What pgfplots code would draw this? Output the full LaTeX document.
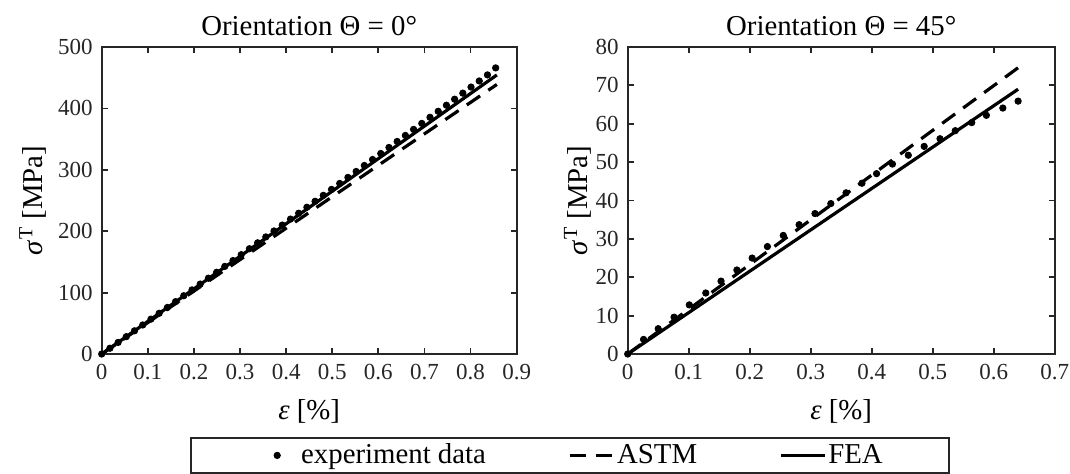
\documentclass[border=0pt]{standalone}
\usepackage{fontspec}
\setmainfont{Liberation Serif}
\usepackage{pgfplots}
\pgfplotsset{compat=1.18}
\definecolor{axgray}{RGB}{38,38,38}
\newcommand{\lblfont}{\fontsize{14.4}{17}\selectfont}

\pgfplotsset{
  panel/.style={
    scale only axis,
    height=153.5pt,
    axis line style={axgray, line width=0.9pt},
    every tick/.style={axgray, line width=0.9pt},
    major tick length=3pt,
    tick align=inside,
    xmin=0, ymin=0,
    /pgf/number format/assume math mode=true,
    ticklabel style={font=\fontsize{11.5}{13}\selectfont, text=axgray},
    xticklabel style={yshift=-1.5pt},
    yticklabel style={xshift=-1pt},
    xlabel={\lblfont\textit{ε} [\%]},
    ylabel={\lblfont\textit{σ}\textsuperscript{T} [MPa]},
    xlabel style={at={(axis description cs:0.5,-0.187)}, anchor=center},
    legend image code/.code={\draw[mark repeat=2,mark phase=2,#1] plot coordinates {(0pt,0pt) (11pt,0pt) (22pt,0pt)};},
  },
  exp/.style={black, only marks, mark=*, mark size=1.6pt, line width=0.4pt,
    legend image code/.code={\path[draw=none,fill=none] (0pt,0pt) -- (22pt,0pt); \draw[#1] plot coordinates {(11pt,0pt)};}},
  astm/.style={black, line width=1.6pt, dash pattern=on 8pt off 5pt},
  fea/.style={black, line width=1.6pt},
}

\begin{document}
\begin{tikzpicture}
\path[use as bounding box] (-50.85pt,-59.5pt) rectangle (484.15pt,177pt);

% Orientation 0 deg
\begin{axis}[
    panel,
    at={(0pt,0pt)}, anchor=south west,
    width=207.5pt,
    xmax=0.9, ymax=500,
    xtick={0,0.1,0.2,0.3,0.4,0.5,0.6,0.7,0.8,0.9},
    ytick={0,100,200,300,400,500},
    title={\lblfont Orientation Θ = 0°},
    title style={yshift=-4pt},
    ylabel style={at={(axis description cs:-0.1655,0.5)}, anchor=center},
    legend columns=3,
    legend cell align=left,
    legend style={
        at={(axis description cs:1.1284,-0.2704)}, anchor=north,
        draw=axgray, line width=0.9pt,
        inner xsep=32pt, inner ysep=2pt,
        nodes={inner sep=1pt, font=\lblfont},
        /tikz/every even column/.append style={column sep=40pt},
    },
]
\addplot[exp] coordinates {
 (0,0) (0.0178,9.4) (0.0356,18.9) (0.0534,28.3) (0.0712,37.8) (0.0890,47.3)
 (0.1068,56.8) (0.1246,66.3) (0.1424,75.8) (0.1602,85.3) (0.1780,94.9)
 (0.1958,104.4) (0.2136,113.9) (0.2314,123.5) (0.2492,133.1) (0.2670,142.7)
 (0.2848,152.2) (0.3026,161.8) (0.3204,171.5) (0.3382,181.1) (0.3560,190.7)
 (0.3738,200.4) (0.3916,210.0) (0.4094,219.7) (0.4272,229.3) (0.4450,239.0)
 (0.4628,248.7) (0.4806,258.4) (0.4984,268.1) (0.5162,277.8) (0.5340,287.6)
 (0.5518,297.3) (0.5696,307.1) (0.5874,316.8) (0.6052,326.6) (0.6230,336.4)
 (0.6408,346.2) (0.6586,356.0) (0.6764,365.8) (0.6942,375.6) (0.7120,385.5)
 (0.7298,395.3) (0.7476,405.2) (0.7654,415.0) (0.7832,424.9) (0.8010,434.8)
 (0.8188,444.7) (0.8366,454.6) (0.8544,466.0)
};
\addlegendentry{experiment data}
\addplot[astm] coordinates {(0,0) (0.857,439)};
\addlegendentry{ASTM}
\addplot[fea] coordinates {(0,0) (0.857,454.5)};
\addlegendentry{FEA}
\end{axis}

% Orientation 45 deg
\begin{axis}[
    panel,
    at={(263pt,0pt)}, anchor=south west,
    width=213.5pt,
    xmax=0.7, ymax=80,
    xtick={0,0.1,0.2,0.3,0.4,0.5,0.6,0.7},
    ytick={0,10,20,30,40,50,60,70,80},
    title={\lblfont Orientation Θ = 45°},
    title style={yshift=-4pt},
    ylabel style={at={(axis description cs:-0.117,0.5)}, anchor=center},
]
\addplot[exp] coordinates {
 (0,0) (0.026,3.8) (0.050,6.6) (0.076,9.6) (0.101,12.8) (0.128,15.9)
 (0.153,19.0) (0.179,21.9) (0.204,25.0) (0.229,28.0) (0.255,30.9)
 (0.281,33.7) (0.307,36.6) (0.333,39.2) (0.358,42.0) (0.384,44.5)
 (0.408,47.0) (0.434,49.5) (0.460,51.8) (0.486,54.1) (0.512,56.1)
 (0.537,58.2) (0.564,60.3) (0.588,62.2) (0.615,64.1) (0.640,65.9)
};
\addplot[astm] coordinates {(0,0) (0.640,74.6)};
\addplot[fea] coordinates {(0,0) (0.640,69.0)};
\end{axis}
\end{tikzpicture}
\end{document}
